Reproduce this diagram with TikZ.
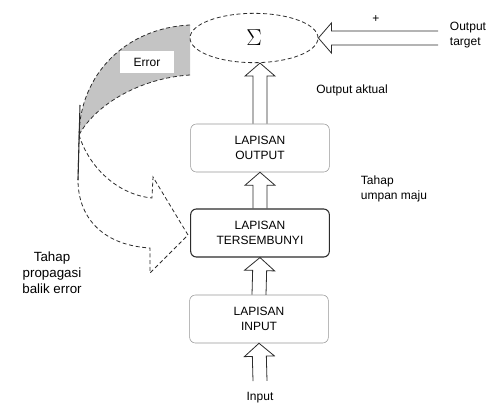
\documentclass[tikz,border=0pt]{standalone}
\usepackage{fontspec}
\setmainfont{Liberation Sans}
\usetikzlibrary{arrows.meta,positioning,shapes.geometric,calc}
\definecolor{NetLine}{HTML}{2B2B2B}
\definecolor{NetGray}{HTML}{C4C4C4}
\newcommand{\hollowarrow}[2]{%
  \path ($(#2)!9.75pt!(#1)$) coordinate (hb);
  \draw[fatarrow] ($(#1)!5.25pt!90:(#2)$) -- ($(hb)!5.25pt!-90:(#1)$) -- ($(hb)!11.25pt!-90:(#1)$)
    -- (#2) -- ($(hb)!11.25pt!90:(#1)$) -- ($(hb)!5.25pt!90:(#1)$) -- ($(#1)!5.25pt!-90:(#2)$);
}
\tikzset{
  layerbox/.style={draw=NetLine!50,rounded corners=1.5mm,align=center,minimum width=104pt,minimum height=36pt,inner sep=2pt,font=\small},
  hiddenbox/.style={layerbox,draw=NetLine,line width=0.8pt},
  sumnode/.style={ellipse,draw=NetLine,densely dashed,line width=0.6pt,minimum width=96pt,minimum height=37pt,inner sep=0pt,font=\LARGE},
  fatarrow/.style={draw=NetLine,line width=0.6pt,line join=miter},
  ribbon/.style={draw=NetLine,densely dashed,line width=0.6pt,line join=miter},
  note/.style={font=\small,align=left,inner sep=1pt}
}

\begin{document}
\begin{tikzpicture}[x=0.75pt,y=-0.75pt]
\useasboundingbox (0,0) rectangle (504,407);
% Back-propagation ribbon
\fill[NetGray] (190,25) .. controls (125,28) and (80,75) .. (79,135) .. controls (95,105) and (140,78) .. (190,75) -- cycle;
\draw[ribbon] (190,75) .. controls (140,78) and (95,105) .. (79,135);
\draw[ribbon] (190,25) .. controls (125,28) and (80,75) .. (79,135);
\draw[ribbon] (79,135) .. controls (90,170) and (120,195) .. (152,198) -- (153,177) -- (188,235) -- (150,273) -- (150,248)
  .. controls (100,245) and (78,215) .. (78,180) -- (79,135);
\draw[NetLine,line width=0.8pt] (80,105) -- (78,180);
\node[fill=white,font=\small,minimum width=41pt,minimum height=17pt] (err) at (147,62) {Error};

% Layers
\node[sumnode] (sum) at (254,38) {$\Sigma$};
\node[layerbox] (outl) at (260,148) {LAPISAN\\OUTPUT};
\node[hiddenbox] (hid) at (260,233) {LAPISAN\\TERSEMBUNYI};
\node[layerbox] (inl) at (259,319) {LAPISAN\\INPUT};
\node[font=\small] (inp) at (260,398) {Input};
\coordinate (inbase) at (260,381);
\coordinate (sumin) at (outl.north |- sum.south);

% Forward arrows
\hollowarrow{inbase}{inl.south}
\hollowarrow{inl.north}{hid.south}
\hollowarrow{hid.north}{outl.south}
\hollowarrow{outl.north}{sumin}

% Target input
\node[note] (tgt) at (468,35) {Output\\target};
\coordinate (tgtend) at (438,38);
\hollowarrow{tgtend}{sum.east}
\node[font=\small] (plus) at (376,19) {+};

% Labels
\node[note] (aktual) at (352,90) {Output aktual};
\node[note] (maju) at (394,189) {Tahap\\umpan maju};
\node[note,align=center,font=\normalsize] (balik) at (52,273) {Tahap\\propagasi\\balik error};
\end{tikzpicture}
\end{document}
